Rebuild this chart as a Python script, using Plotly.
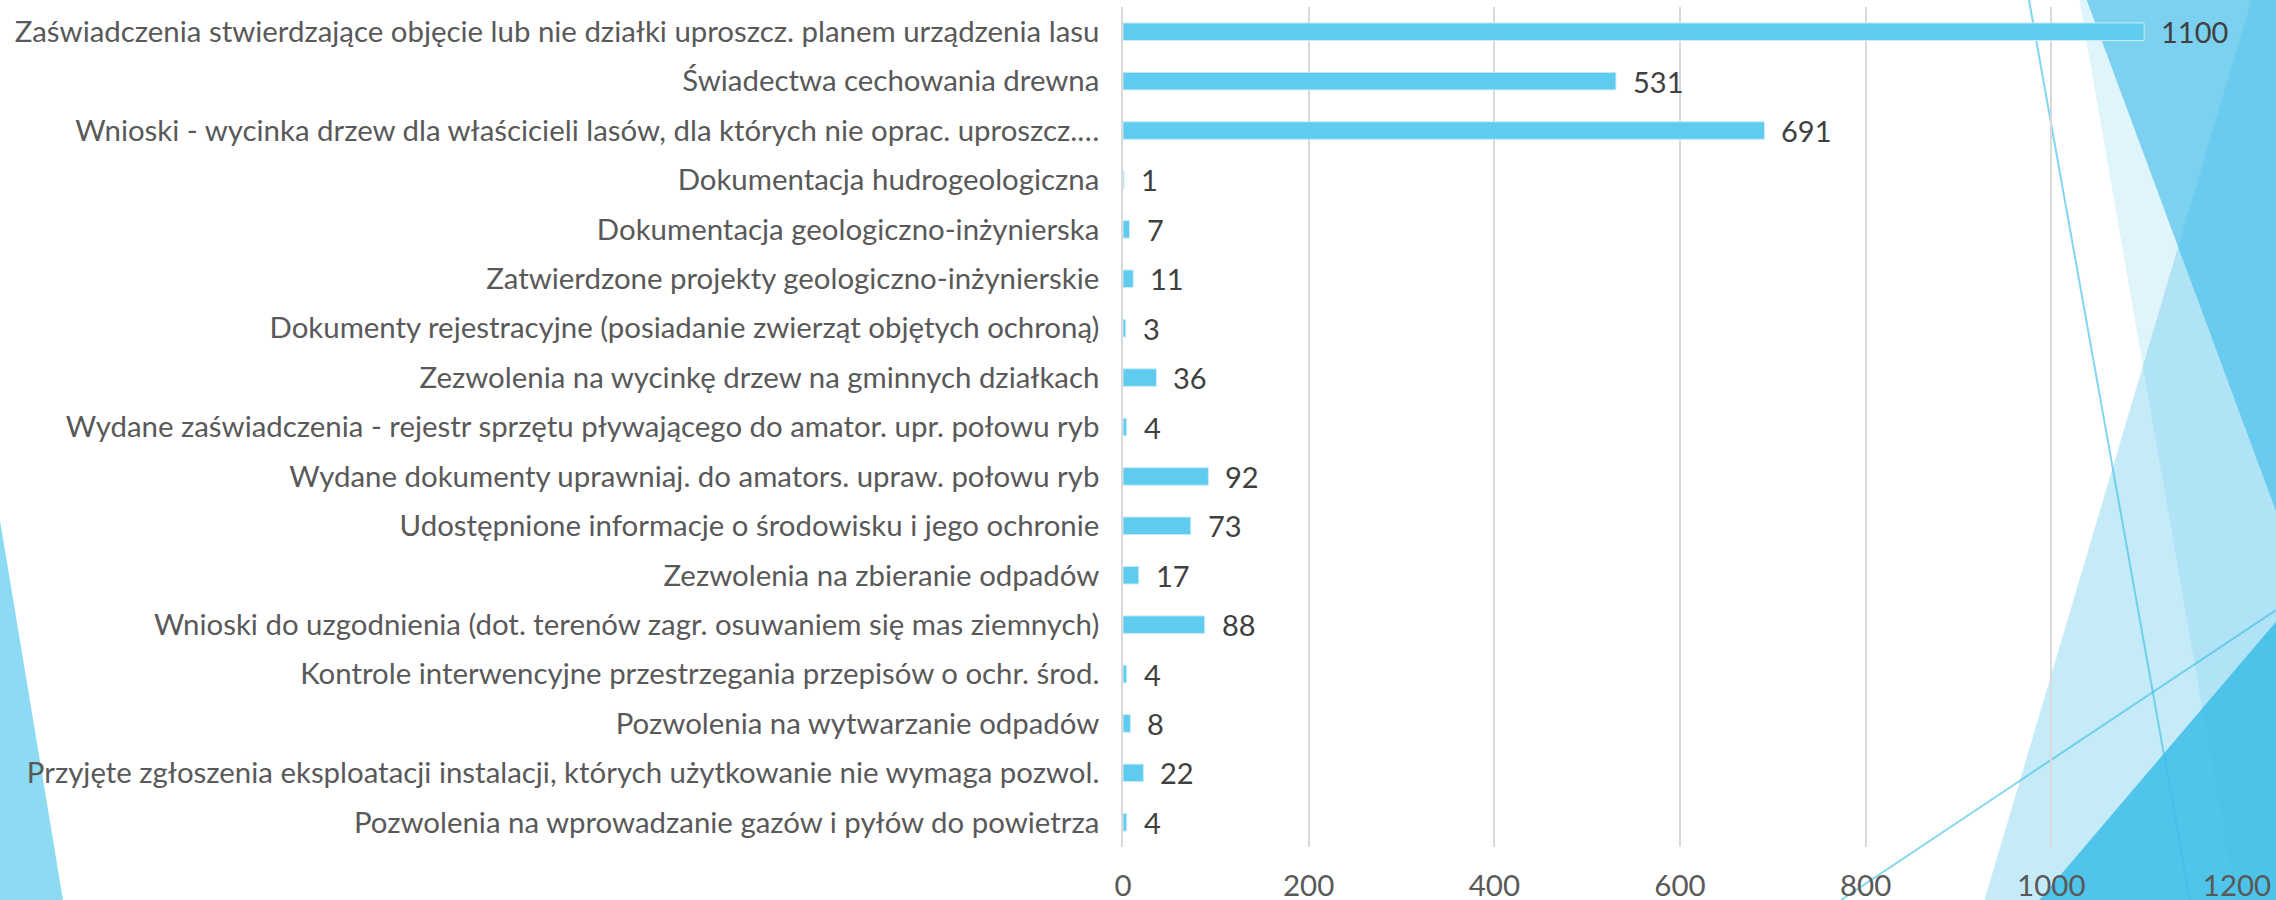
import plotly.graph_objects as go

categories = [
    "Zaświadczenia stwierdzające objęcie lub nie działki uproszcz. planem urządzenia lasu",
    "Świadectwa cechowania drewna",
    "Wnioski - wycinka drzew dla właścicieli lasów, dla których nie oprac. uproszcz.…",
    "Dokumentacja hudrogeologiczna",
    "Dokumentacja geologiczno-inżynierska",
    "Zatwierdzone projekty geologiczno-inżynierskie",
    "Dokumenty rejestracyjne (posiadanie zwierząt objętych ochroną)",
    "Zezwolenia na wycinkę drzew na gminnych działkach",
    "Wydane zaświadczenia - rejestr sprzętu pływającego do amator. upr. połowu ryb",
    "Wydane dokumenty uprawniaj. do amators. upraw. połowu ryb",
    "Udostępnione informacje o środowisku i jego ochronie",
    "Zezwolenia na zbieranie odpadów",
    "Wnioski do uzgodnienia (dot. terenów zagr. osuwaniem się mas ziemnych)",
    "Kontrole interwencyjne przestrzegania przepisów o ochr. środ.",
    "Pozwolenia na wytwarzanie odpadów",
    "Przyjęte zgłoszenia eksploatacji instalacji, których użytkowanie nie wymaga pozwol.",
    "Pozwolenia na wprowadzanie gazów i pyłów do powietrza",
]
values = [1100, 531, 691, 1, 7, 11, 3, 36, 4, 92, 73, 17, 88, 4, 8, 22, 4]
x_ticks = [0, 200, 400, 600, 800, 1000, 1200]

W, H = 2276, 900
ML, MR, MT, MB = 1123, 39, 7, 53
PW, PH = W - ML - MR, H - MT - MB

FONT = "Lato"

def px(x):
    return (x - ML) / PW

def py(y):
    return (H - MB - y) / PH

def poly(points):
    d = "M " + " L ".join(f"{px(x):.5f},{py(y):.5f}" for x, y in points) + " Z"
    return d

BASE = "65,190,232"
shapes = []
# left triangle
shapes.append(dict(type="path", xref="paper", yref="paper", layer="below",
                   path=poly([(-5, 490), (63, 900), (-5, 905)]),
                   fillcolor="#8ddbf3", line=dict(width=0)))
# very light tall triangle
shapes.append(dict(type="path", xref="paper", yref="paper", layer="below",
                   path=poly([(2079, -2), (2280, -2), (2280, 905), (2236.5, 905)]),
                   fillcolor=f"rgba({BASE},0.17)", line=dict(width=0)))
# upward light triangle
shapes.append(dict(type="path", xref="paper", yref="paper", layer="below",
                   path=poly([(2252, -2), (2280, -2), (2280, 905), (1983, 905)]),
                   fillcolor=f"rgba({BASE},0.30)", line=dict(width=0)))
# top-right dark triangle
shapes.append(dict(type="path", xref="paper", yref="paper", layer="below",
                   path=poly([(2086, -2), (2280, -2), (2280, 522)]),
                   fillcolor=f"rgba({BASE},0.64)", line=dict(width=0)))
# bottom-right dark triangle
shapes.append(dict(type="path", xref="paper", yref="paper", layer="below",
                   path=poly([(2280, 617), (2280, 905), (2035, 905)]),
                   fillcolor=f"rgba({BASE},0.88)", line=dict(width=0)))
# thin lines
shapes.append(dict(type="line", xref="paper", yref="paper", layer="below",
                   x0=px(2029), y0=py(0), x1=px(2190), y1=py(900),
                   line=dict(color=f"rgba({BASE},0.65)", width=2)))
shapes.append(dict(type="line", xref="paper", yref="paper", layer="below",
                   x0=px(1841), y0=py(900), x1=px(2276), y1=py(610),
                   line=dict(color=f"rgba({BASE},0.65)", width=2)))

fig = go.Figure()
fig.add_trace(go.Bar(
    x=values, y=categories, orientation="h",
    marker=dict(color="#5fcbef", line=dict(color="#c9ecf9", width=1)),
    hoverinfo="x+y",
))

annotations = [
    dict(x=v, y=c, xref="x", yref="y", text=str(v), showarrow=False,
         xanchor="left", yanchor="middle", xshift=15,
         font=dict(family=FONT, size=29, color="#404040"))
    for c, v in zip(categories, values)
]

fig.update_layout(
    width=W, height=H,
    margin=dict(l=ML, r=MR, t=MT, b=MB, pad=0),
    paper_bgcolor="white", plot_bgcolor="rgba(0,0,0,0)",
    bargap=0.645,
    showlegend=False,
    shapes=shapes,
    annotations=annotations,
    font=dict(family=FONT, color="#595959"),
)
fig.update_xaxes(
    range=[0, 1200], tickvals=x_ticks, ticktext=[str(t) for t in x_ticks],
    showgrid=True, gridcolor="#d9d9d9", gridwidth=1.5,
    zeroline=False, showline=False, ticks="",
    tickfont=dict(family=FONT, size=29.5, color="#595959"),
    ticklabelstandoff=18, automargin=False, fixedrange=True,
)
fig.update_yaxes(
    categoryorder="array", categoryarray=categories, autorange="reversed",
    showgrid=False, zeroline=False, showline=True, linecolor="#d9d9d9", linewidth=1.5,
    ticks="", tickfont=dict(family=FONT, size=29.4, color="#595959"),
    ticklabelstandoff=16, automargin=False, fixedrange=True,
)

fig.write_html(
    "out.html",
    config={"displayModeBar": False},
    post_script="document.body.style.margin='0';document.body.style.overflow='hidden';",
)
